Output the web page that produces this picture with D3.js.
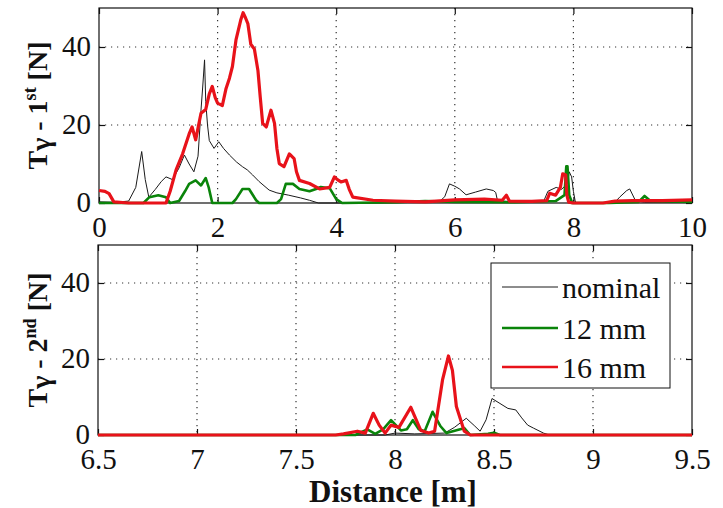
<!DOCTYPE html>
<html>
<head>
<meta charset="utf-8">
<script src="https://cdn.jsdelivr.net/npm/d3@7"></script>
</head>
<body style="margin:0">
<div id="plot"></div>
<script>
// distance [m], force [N]
var nominal1st = [[0,0.3],[0.3,0.2],[0.5,0.5],[0.62,4],[0.72,13.2],[0.78,6],[0.84,1.5],[0.95,3.5],[1.05,5.5],[1.13,6.7],[1.24,6],[1.35,9],[1.44,12.3],[1.52,10],[1.6,8],[1.67,12],[1.72,23.8],[1.75,30],[1.78,36.7],[1.8,26],[1.83,20],[1.86,16],[1.94,14],[2.02,15.7],[2.1,14],[2.2,12.3],[2.32,10.5],[2.42,9.3],[2.5,8.5],[2.59,7.2],[2.7,5.5],[2.87,3.3],[3,2.6],[3.2,2],[3.4,1.3],[3.55,0.7],[3.7,0],[4.5,0],[5.6,0.2],[5.75,0.5],[5.83,1.6],[5.91,4.9],[6,4.3],[6.08,3.6],[6.19,2.1],[6.35,2.8],[6.53,3.6],[6.65,3.2],[6.69,2.7],[6.72,0.6],[7,0.3],[7.5,0.5],[7.57,3],[7.71,4],[7.8,3.5],[7.9,5],[7.93,8],[7.97,6.7],[8,3],[8.03,0.5],[8.05,0],[8.7,0.2],[8.78,1.5],[8.9,3.2],[8.95,3.6],[9.05,0.5],[9.2,0.2],[10,0.2]]
var mm12_1st = [[0,0],[0.75,0],[0.85,1.5],[1,2],[1.13,1.5],[1.2,0],[1.35,0.5],[1.45,3],[1.52,4.9],[1.63,5.8],[1.72,4.5],[1.8,6.4],[1.85,4],[1.91,0],[2.25,0],[2.31,1],[2.42,3.6],[2.53,3.6],[2.65,0.7],[2.7,0],[3,0],[3.07,1],[3.15,4.9],[3.27,4.9],[3.38,3.6],[3.55,3],[3.66,3.6],[3.74,4.1],[3.89,3.8],[4,1],[4.1,0],[5,0.2],[5.5,0.5],[6,0.3],[7,0.2],[7.7,0.5],[7.85,2],[7.88,9.4],[7.9,9.4],[7.93,2],[7.98,0],[8.6,0],[9.1,0.3],[9.2,1.8],[9.3,0.5],[10,0.3]]
var mm16_1st = [[0,3.2],[0.1,3],[0.17,2.4],[0.25,0.3],[0.5,0],[1.13,0],[1.2,3],[1.3,8.5],[1.41,12.6],[1.52,17.7],[1.57,19.5],[1.63,16.2],[1.68,20],[1.72,23],[1.8,24],[1.86,28],[1.91,29.9],[1.96,27],[2,25.6],[2.08,25],[2.14,29.2],[2.2,32],[2.25,35],[2.31,41.8],[2.39,46.9],[2.43,48.8],[2.47,47.5],[2.51,46],[2.56,40.7],[2.62,39.5],[2.68,34],[2.72,27],[2.76,20.4],[2.82,19.5],[2.9,23.8],[2.96,20.4],[3,14],[3.04,10.1],[3.12,9.3],[3.21,12.6],[3.29,11.4],[3.33,8],[3.38,5.8],[3.55,5],[3.72,3.6],[3.89,4],[3.97,6.7],[4.02,6],[4.08,5.4],[4.17,5.8],[4.22,3.5],[4.28,1.5],[4.62,0.7],[5,0.5],[5.5,0.3],[6,0.8],[6.5,1],[6.8,0.7],[6.87,2],[6.92,0.5],[7.3,0.4],[7.55,0.6],[7.6,2.5],[7.7,2],[7.78,4],[7.82,7.5],[7.87,7.2],[7.89,2],[7.92,0.2],[8,0],[8.5,0],[8.7,0.5],[9,0.6],[9.5,0.6],[10,0.8]]

var nominal2nd = [[6.5,0],[7.95,0],[8,0.5],[8.1,0.3],[8.25,0.5],[8.3,2],[8.36,4.4],[8.4,2.5],[8.43,1],[8.46,4],[8.49,9.6],[8.53,8.3],[8.57,7],[8.61,6.6],[8.64,4.5],[8.67,2.6],[8.7,1.8],[8.75,0.5],[8.78,0],[9.5,0]]
var mm12_2nd = [[6.5,0],[7.8,0],[7.86,1.5],[7.9,0.3],[7.94,1.5],[7.98,3.9],[8.03,1.2],[8.06,1.5],[8.09,3.9],[8.12,1.5],[8.15,1],[8.19,6.1],[8.23,2.3],[8.26,0.5],[8.32,1.4],[8.35,1.8],[8.38,0],[8.47,0.3],[8.5,0.6],[8.53,0],[9.5,0]]
var mm16_2nd = [[6.5,0],[7.7,0],[7.74,0.3],[7.81,1],[7.85,0.5],[7.89,5.7],[7.92,2.6],[7.95,0.5],[7.98,2.6],[8.02,2],[8.08,7.3],[8.13,1.2],[8.17,0.5],[8.2,1],[8.24,14.5],[8.27,20.8],[8.29,17],[8.31,7.5],[8.35,1],[8.38,0],[9.5,0]]

var seriesNames = ['nominal', '12 mm', '16 mm']
var seriesColors = ['#1a1a1a', '#0a840a', '#e8121a']
var seriesWidths = [1, 2.6, 3.2]

var xTicks1st = [0, 2, 4, 6, 8, 10]
var xTicks2nd = [6.5, 7, 7.5, 8, 8.5, 9, 9.5]
var yTicks = [0, 20, 40]

;(function () {
  var W = 723, H = 508
  var FONT = "'Liberation Serif'"
  var svg = d3.select('#plot').append('svg')
    .attr('width', W)
    .attr('height', H)

  function serif (sel, size, bold) {
    sel.attr('font-family', 'Liberation Serif')
      .style('font-family', FONT)
      .style('font-size', size + 'px')
      .style('font-weight', bold ? 'bold' : 'normal')
      .attr('fill', '#111')
    return sel
  }

  drawPanel({ left: 99, right: 692, top: 8, bottom: 203 }, [0, 10], xTicks1st,
    [nominal1st, mm12_1st, mm16_1st], '1', 'st')
  drawPanel({ left: 98, right: 692, top: 245, bottom: 435 }, [6.5, 9.5], xTicks2nd,
    [nominal2nd, mm12_2nd, mm16_2nd], '2', 'nd')

  // x label
  serif(svg.append('text'), 31, true)
    .attr('x', 393)
    .attr('y', 502)
    .attr('text-anchor', 'middle')
    .text('Distance [m]')

  // legend
  var lg = svg.append('g').attr('transform', 'translate(491,263)')
  lg.append('rect')
    .attr('width', 179)
    .attr('height', 125)
    .attr('fill', '#fff')
    .attr('stroke', '#111')
    .attr('stroke-width', 1)
  var rows = [24, 65, 104]
  seriesNames.forEach(function (name, i) {
    lg.append('line')
      .attr('x1', 11).attr('x2', 67)
      .attr('y1', rows[i]).attr('y2', rows[i])
      .attr('stroke', seriesColors[i])
      .attr('stroke-width', i === 0 ? 1 : 2.4)
    serif(lg.append('text'), 30, false)
      .attr('x', 71)
      .attr('y', rows[i])
      .attr('dy', '0.35em')
      .text(name)
  })

  function drawPanel (box, xDomain, xTicks, data, num, sup) {
    var x = d3.scaleLinear().domain(xDomain).range([box.left, box.right])
    var y = d3.scaleLinear().domain([0, 50]).range([box.bottom, box.top])
    var g = svg.append('g')

    // dotted grid
    xTicks.slice(1, -1).forEach(function (t) {
      g.append('line')
        .attr('x1', x(t)).attr('x2', x(t))
        .attr('y1', box.top).attr('y2', box.bottom)
        .attr('stroke', '#333').attr('stroke-width', 1.2)
        .attr('stroke-dasharray', '1.2,4.8')
    })
    yTicks.slice(1).forEach(function (t) {
      g.append('line')
        .attr('x1', box.left).attr('x2', box.right)
        .attr('y1', y(t)).attr('y2', y(t))
        .attr('stroke', '#333').attr('stroke-width', 1.2)
        .attr('stroke-dasharray', '1.2,4.8')
    })

    // frame + inner ticks on all sides
    g.append('rect')
      .attr('x', box.left).attr('y', box.top)
      .attr('width', box.right - box.left)
      .attr('height', box.bottom - box.top)
      .attr('fill', 'none').attr('stroke', '#111').attr('stroke-width', 1.2)

    var axB = d3.axisBottom(x).tickValues(xTicks).tickSizeInner(-6).tickSizeOuter(0).tickPadding(13)
      .tickFormat(d3.format('~g'))
    var axT = d3.axisTop(x).tickValues(xTicks).tickSizeInner(-6).tickSizeOuter(0).tickFormat('')
    var axL = d3.axisLeft(y).tickValues(yTicks).tickSizeInner(-6).tickSizeOuter(0).tickPadding(8)
    var axR = d3.axisRight(y).tickValues(yTicks).tickSizeInner(-6).tickSizeOuter(0).tickFormat('')

    g.append('g').attr('transform', 'translate(0,' + box.bottom + ')').call(axB)
    g.append('g').attr('transform', 'translate(0,' + box.top + ')').call(axT)
    var gl = g.append('g').attr('transform', 'translate(' + box.left + ',0)').call(axL)
    g.append('g').attr('transform', 'translate(' + box.right + ',0)').call(axR)
    g.selectAll('.domain').remove()
    g.selectAll('.tick line').attr('stroke', '#111').attr('stroke-width', 1.2)
    serif(g.selectAll('.tick text'), 29, false)
    gl.selectAll('.tick text').attr('dy', '0.28em')

    // series
    var line = d3.line()
      .x(function (d) { return x(d[0]) })
      .y(function (d) { return y(d[1]) })
    data.forEach(function (pts, i) {
      g.append('path')
        .datum(pts)
        .attr('d', line)
        .attr('fill', 'none')
        .attr('stroke', seriesColors[i])
        .attr('stroke-width', seriesWidths[i])
        .attr('stroke-linejoin', 'round')
    })

    // y label
    var cy = (box.top + box.bottom) / 2
    var lbl = serif(svg.append('text'), 28, true)
      .attr('transform', 'translate(47,' + cy + ') rotate(-90)')
      .attr('text-anchor', 'middle')
    lbl.append('tspan').text('T')
    lbl.append('tspan').attr('dy', 3).text('γ')
    lbl.append('tspan').attr('dy', -3).text(' - ' + num)
    lbl.append('tspan').attr('dy', -11).style('font-size', '18px').text(sup)
    lbl.append('tspan').attr('dy', 11).text(' [N]')
  }
})()
</script>
</body>
</html>
